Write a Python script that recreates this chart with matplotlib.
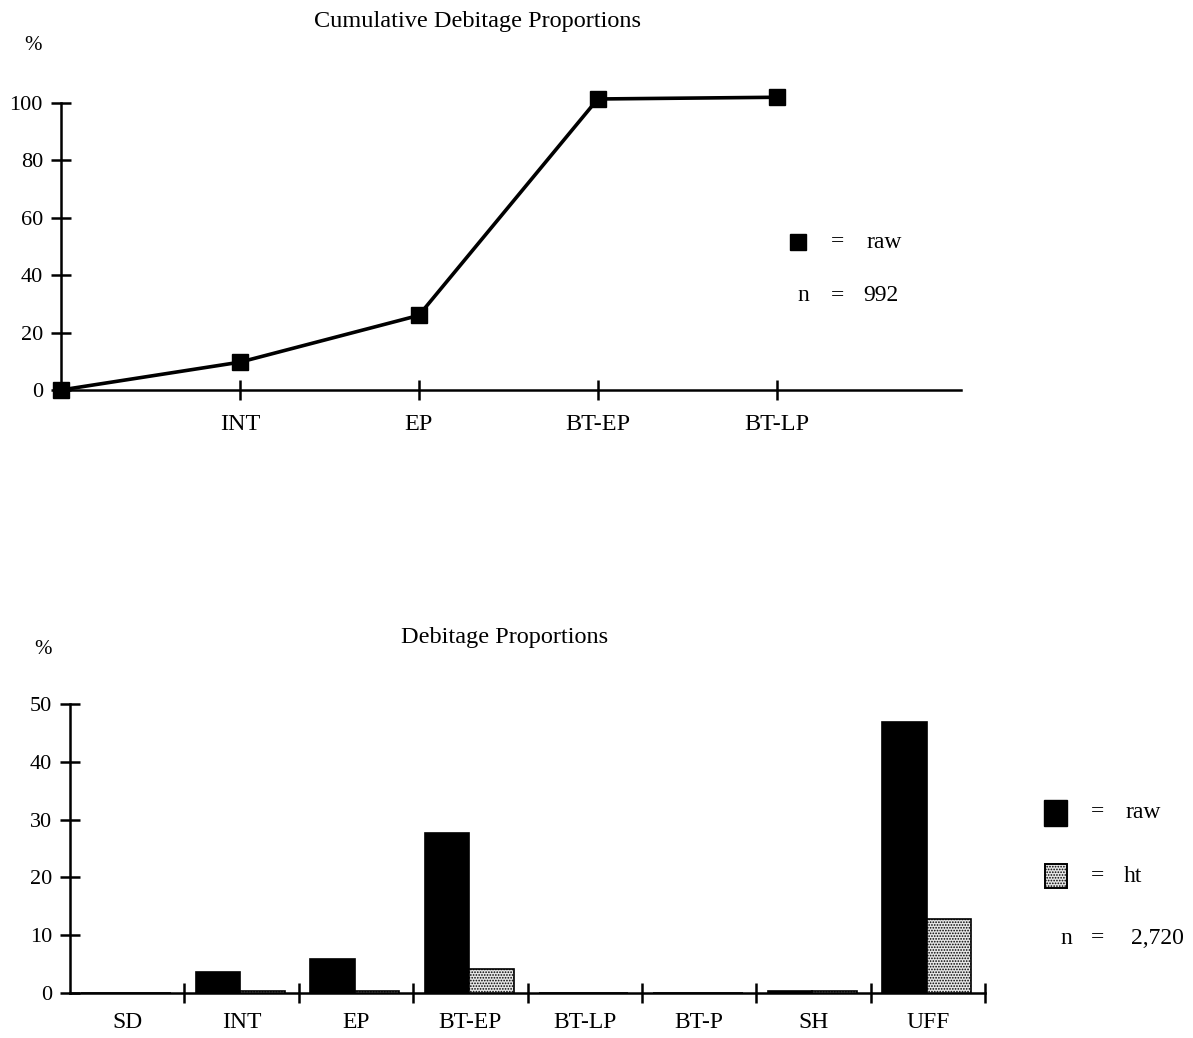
import matplotlib
matplotlib.use("Agg")
import matplotlib.pyplot as plt
from matplotlib.patches import Rectangle
from matplotlib.lines import Line2D
import numpy as np

plt.rcParams["font.family"] = ["Liberation Serif", "DejaVu Serif"]
plt.rcParams["hatch.linewidth"] = 0.8

# top chart: cumulative proportions
cum_labels = ["", "INT", "EP", "BT-EP", "BT-LP"]
cum_raw = [0.0, 9.7, 26.0, 101.4, 102.0]
cum_n = "992"

# bottom chart: proportions per class
classes = ["SD", "INT", "EP", "BT-EP", "BT-LP", "BT-P", "SH", "UFF"]
prop_raw = [0.0, 3.6, 5.9, 27.7, 0.0, 0.0, 0.3, 46.9]
prop_ht = [0.0, 0.3, 0.3, 4.2, 0.0, 0.0, 0.3, 12.8]
prop_n = "2,720"

W, H = 1193, 1038
fig = plt.figure(figsize=(W / 100, H / 100), dpi=100)


def fx(px):
    return px / W


def fy(py):
    return 1 - py / H


def style_axes(ax):
    for s in ("top", "right"):
        ax.spines[s].set_visible(False)
    for s in ("left", "bottom"):
        ax.spines[s].set_linewidth(1.8)
    ax.tick_params(which="major", direction="inout", length=14, width=1.8,
                   labelsize=16)


# ---- top chart ----
ax1 = fig.add_axes([fx(61), fy(390), fx(961) - fx(61), fy(103) - fy(390)])
style_axes(ax1)
xs = np.arange(len(cum_raw))
ax1.plot(xs, cum_raw, color="black", lw=2.6, marker="s", ms=11,
         clip_on=False, zorder=3)
ax1.set_xlim(0, 5.03)
ax1.set_ylim(0, 100)
ax1.set_yticks([0, 20, 40, 60, 80, 100])
ax1.set_xticks(xs[1:])
ax1.set_xticklabels(cum_labels[1:], fontsize=17.5)
ax1.tick_params(axis="x", pad=10)
ax1.tick_params(axis="y", pad=6)

fig.text(fx(477), fy(22), "Cumulative Debitage Proportions", ha="center",
         va="center", fontsize=17.5)
fig.text(fx(33), fy(45), "%", ha="center", va="center", fontsize=15)

fig.add_artist(Line2D([fx(798)], [fy(242)], marker="s", ms=12, color="black",
                      transform=fig.transFigure))
for txt, x, y in [("=", 838, 242), ("raw", 884, 242),
                  ("n", 803, 296), ("=", 838, 296), (cum_n, 881, 296)]:
    fig.text(fx(x), fy(y), txt, ha="center", va="center", fontsize=17)

# ---- bottom chart ----
ax2 = fig.add_axes([fx(70), fy(993), fx(985) - fx(70), fy(704) - fy(993)])
style_axes(ax2)
pos = np.arange(len(classes))
bw = 0.39
ax2.bar(pos + 0.1, prop_raw, width=bw, align="edge", color="black",
        edgecolor="black", lw=1.2, zorder=3)
ax2.bar(pos + 0.1 + bw, prop_ht, width=bw, align="edge", color="#e6e6e6",
        edgecolor="black", lw=1.2, hatch="......", zorder=3)
ax2.set_xlim(0, len(classes))
ax2.set_ylim(0, 50)
ax2.set_yticks([0, 10, 20, 30, 40, 50])
ax2.set_xticks(np.arange(1, len(classes) + 1))
ax2.set_xticklabels([])
ax2.set_xticks(pos + 0.5, minor=True)
ax2.set_xticklabels(classes, minor=True, fontsize=17)
ax2.tick_params(axis="x", which="minor", length=0, pad=13.5)
ax2.tick_params(axis="y", pad=6)

fig.text(fx(505), fy(638), "Debitage Proportions", ha="center", va="center",
         fontsize=17.5)
fig.text(fx(43), fy(650), "%", ha="center", va="center", fontsize=15)

fig.add_artist(Rectangle((fx(1044), fy(826)), fx(23), fy(800) - fy(826),
                         facecolor="black", edgecolor="black",
                         transform=fig.transFigure))
fig.add_artist(Rectangle((fx(1045), fy(888)), fx(22), fy(864) - fy(888),
                         facecolor="#e6e6e6", edgecolor="black", lw=1.4,
                         hatch="......", transform=fig.transFigure))
for txt, x, y in [("=", 1097, 812), ("raw", 1143, 812),
                  ("=", 1097, 876), ("ht", 1133, 876),
                  ("n", 1066, 938), ("=", 1097, 938), (prop_n, 1157, 938)]:
    fig.text(fx(x), fy(y), txt, ha="center", va="center", fontsize=17)

fig.savefig("out.png", dpi=100)
